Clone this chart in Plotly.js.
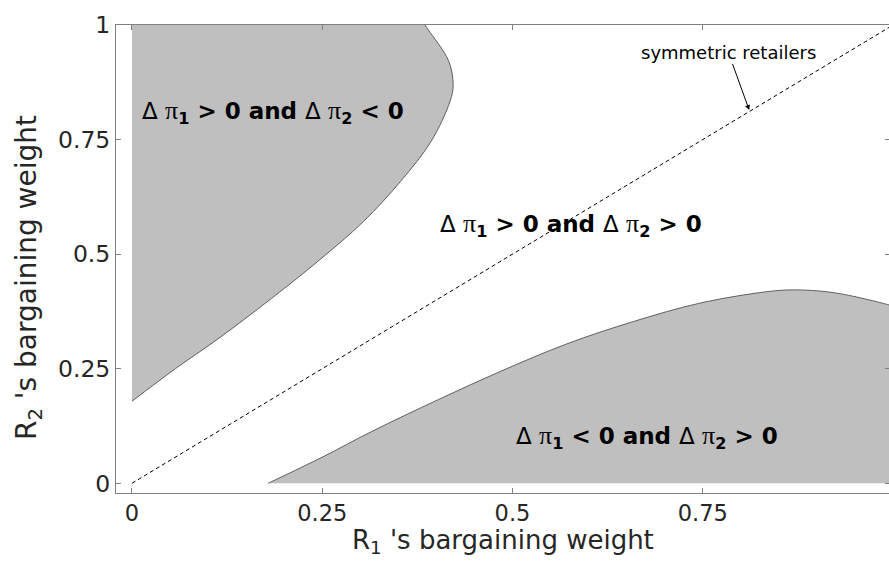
<!DOCTYPE html>
<html>
<head>
<meta charset="utf-8">
<script src="https://cdn.plot.ly/plotly-3.0.1.min.js"></script>
<style>html,body{margin:0;padding:0;overflow:hidden;background:#fff}</style>
</head>
<body>
<div id="chart" style="width:890px;height:561px"></div>
<script>
// Boundary of the upper-left region (x as a function of y)
var upperX = [0.000, 0.057, 0.113, 0.183, 0.244, 0.304, 0.353, 0.393, 0.418, 0.422, 0.416, 0.389, 0.385];
var upperY = [0.179, 0.250, 0.315, 0.403, 0.484, 0.571, 0.659, 0.746, 0.834, 0.869, 0.922, 0.990, 1.000];
// Boundary of the lower-right region (y as a function of x)
var lowerX = [0.179, 0.250, 0.315, 0.403, 0.484, 0.571, 0.659, 0.746, 0.834, 0.869, 0.922, 0.995, 1.000];
var lowerY = [0.000, 0.057, 0.113, 0.183, 0.244, 0.304, 0.353, 0.393, 0.418, 0.422, 0.416, 0.389, 0.386];
// Symmetric retailers line
var diagX = [0, 1];
var diagY = [0, 1];
var xTicks = [0, 0.25, 0.5, 0.75];
var xTickText = ['0', '0.25', '0.5', '0.75'];
var yTicks = [0, 0.25, 0.5, 0.75, 1];
var yTickText = ['0', '0.25', '0.5', '0.75', '1'];

var fillCol = '#bfbfbf';
var edgeCol = '#5f5f5f';
var FONT = 'DejaVu Sans, Verdana, sans-serif';

var traces = [
  {x: upperX, y: upperY, mode: 'lines', fill: 'tozerox', fillcolor: fillCol,
   line: {color: edgeCol, width: 1, shape: 'spline'}, hoverinfo: 'skip'},
  {x: lowerX, y: lowerY, mode: 'lines', fill: 'tozeroy', fillcolor: fillCol,
   line: {color: edgeCol, width: 1, shape: 'spline'}, hoverinfo: 'skip'},
  {x: diagX, y: diagY, mode: 'lines', line: {color: '#000', width: 1, dash: '4px,3px'}, hoverinfo: 'skip'}
];

var bigFont = {family: FONT, size: 23, color: '#000'};
function lab(s1, s2) {
  var d = '<span style="font-weight:normal">\u0394 </span>';
  var p = '<span style="font-family:\'Liberation Serif\';font-weight:normal;font-size:26px">\u03c0</span>';
  return d + p + '<sub><b>1</b></sub><b> ' + s1 + ' 0 and </b>' + d + p + '<sub><b>2</b></sub><b> ' + s2 + ' 0</b>';
}

var layout = {
  width: 890, height: 561,
  margin: {l: 116, r: 0, t: 25, b: 68},
  paper_bgcolor: '#fff', plot_bgcolor: '#fff',
  showlegend: false,
  font: {family: FONT, color: '#262626'},
  xaxis: {
    range: [-0.021, 0.996], tickvals: xTicks, ticktext: xTickText,
    ticks: 'inside', ticklen: 5, tickcolor: '#808080', tickwidth: 1,
    showline: true, linecolor: '#808080', linewidth: 1, mirror: 'ticks',
    showgrid: false, zeroline: false,
    tickfont: {family: FONT, size: 22.5, color: '#262626'}
  },
  yaxis: {
    range: [-0.0212, 1], tickvals: yTicks, ticktext: yTickText,
    ticks: 'inside', ticklen: 5, tickcolor: '#808080', tickwidth: 1,
    showline: true, linecolor: '#808080', linewidth: 1, mirror: 'ticks',
    showgrid: false, zeroline: false,
    tickfont: {family: FONT, size: 23.5, color: '#262626'}
  },
  annotations: [
    {x: 0.4994, y: -0.104, xref: 'paper', yref: 'paper', xanchor: 'center', yanchor: 'middle',
     text: 'R<sub>1</sub> \'s bargaining weight', showarrow: false,
     font: {family: FONT, size: 26, color: '#262626'}},
    {x: -0.1137, y: 0.4615, xref: 'paper', yref: 'paper', xanchor: 'center', yanchor: 'middle',
     textangle: -90, text: 'R<sub>2</sub> \'s bargaining weight', showarrow: false,
     font: {family: FONT, size: 28, color: '#262626'}},
    {x: 0.185, y: 0.81, xref: 'x', yref: 'y', text: lab('&gt;', '&lt;'), showarrow: false, font: bigFont},
    {x: 0.577, y: 0.564, xref: 'x', yref: 'y', text: lab('&gt;', '&gt;'), showarrow: false, font: bigFont},
    {x: 0.677, y: 0.101, xref: 'x', yref: 'y', text: lab('&lt;', '&gt;'), showarrow: false, font: bigFont},
    {x: 0.811, y: 0.8145, xref: 'x', yref: 'y', text: 'symmetric retailers', showarrow: true,
     ax: -21, ay: -58, arrowhead: 2, arrowsize: 1, arrowwidth: 1, arrowcolor: '#000',
     font: {family: FONT, size: 18, color: '#000'}}
  ]
};

Plotly.newPlot('chart', traces, layout, {displayModeBar: false, staticPlot: true});
</script>
</body>
</html>
